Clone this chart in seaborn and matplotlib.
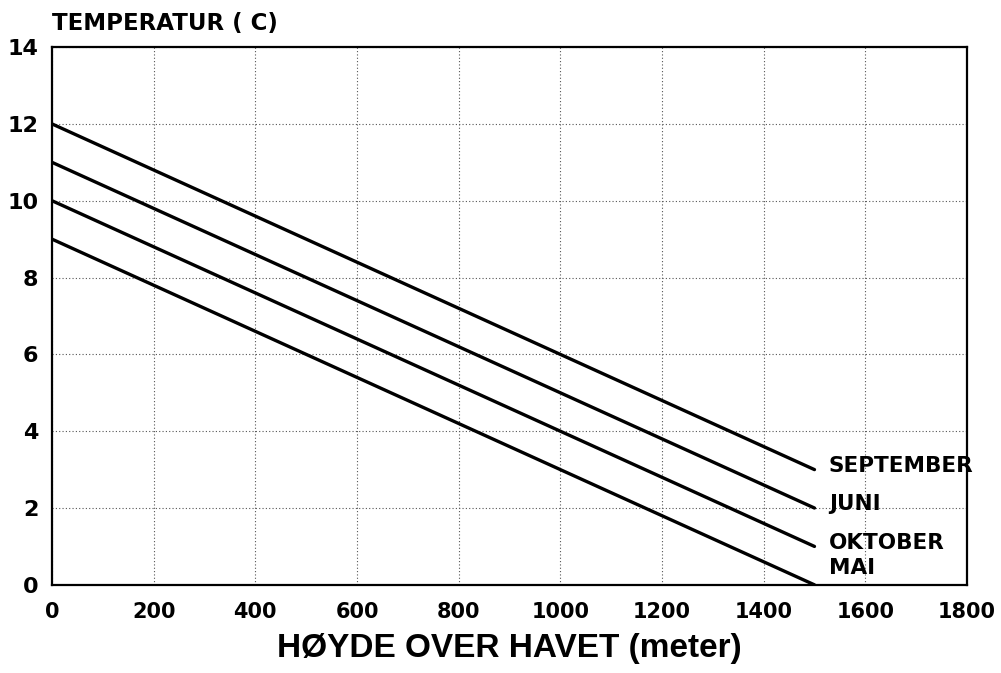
import pandas as pd
import numpy as np
import matplotlib
matplotlib.use("Agg")
import matplotlib.pyplot as plt
import seaborn as sns

# values (temperature at sea level and at 1500 m)
maaneder = ["SEPTEMBER", "JUNI", "OKTOBER", "MAI"]
hoyde = [0, 1500]
temp_september = [12, 3]
temp_juni = [11, 2]
temp_oktober = [10, 1]
temp_mai = [9, 0]
label_y = [3.1, 2.1, 1.1, 0.45]
x_ticks = [0, 200, 400, 600, 800, 1000, 1200, 1400, 1600, 1800]
y_ticks = [0, 2, 4, 6, 8, 10, 12, 14]

rows = []
for m, vals in zip(maaneder, [temp_september, temp_juni, temp_oktober, temp_mai]):
    for h, t in zip(hoyde, vals):
        rows.append({"Hoyde": h, "Temp": t, "Maaned": m})
df = pd.DataFrame(rows)

sns.set_style("white")
plt.rcParams['font.family'] = ['DejaVu Sans']
plt.rcParams['text.color'] = 'black'
plt.rcParams['xtick.color'] = 'black'
plt.rcParams['ytick.color'] = 'black'
plt.rcParams['axes.labelcolor'] = 'black'

fig = plt.figure(figsize=(10.01, 6.73), dpi=100)
ax = fig.add_axes([0.052, 0.131, 0.914, 0.799])

sns.lineplot(data=df, x="Hoyde", y="Temp", units="Maaned", estimator=None,
             color="black", linewidth=2.4, ax=ax, legend=False)

ax.set_xlim(0, 1800)
ax.set_ylim(0, 14)
ax.set_xticks(x_ticks)
ax.set_yticks(y_ticks)
ax.set_xticklabels([str(v) for v in x_ticks], fontsize=15, fontweight="bold")
ax.set_yticklabels([str(v) for v in y_ticks], fontsize=16, fontweight="bold")
ax.tick_params(axis="x", length=0, pad=12)
ax.tick_params(axis="y", length=0, pad=10)
ax.grid(True, color="#555555", linestyle=(0, (1, 2)), linewidth=0.8)
for s in ax.spines.values():
    s.set_color("black")
    s.set_linewidth(1.6)

for m, ly in zip(maaneder, label_y):
    ax.text(1528, ly, m, fontsize=15.5, fontweight="bold", va="center", ha="left",
            clip_on=False)

ax.set_xlabel("HØYDE OVER HAVET (meter)", fontsize=24, fontweight="bold",
              family="Liberation Sans", labelpad=8)
ax.set_ylabel("")
fig.text(0.052, 0.965, "TEMPERATUR ( C)", fontsize=16.5, fontweight="bold",
         ha="left", va="center")

fig.savefig("out.png", dpi=100)
